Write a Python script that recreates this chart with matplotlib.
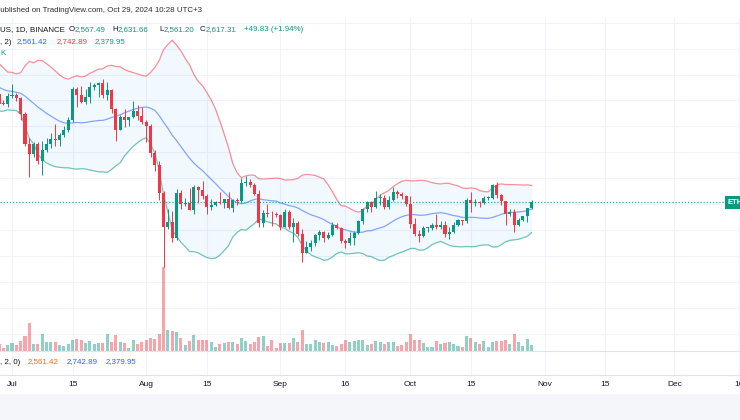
import numpy as np
import pandas as pd
import matplotlib
matplotlib.use('Agg')
import matplotlib.pyplot as plt
import matplotlib.dates as mdates
from matplotlib.patches import Rectangle

# ETH/USD diário (Binance), 28 jun -> 29 out 2024
dates = pd.date_range('2024-06-28', '2024-10-29', freq='D')

# fechamentos de 9 a 27 de junho, só para aquecer a Bollinger (20, 2)
warmup_close = [3705, 3667, 3498, 3560, 3470, 3480, 3566, 3620, 3511, 3484,
                3561, 3515, 3520, 3497, 3420, 3356, 3397, 3372, 3451]

opens = [
    3451, 3375, 3372,
    # jul
    3433, 3440, 3420, 3295, 3060, 2985, 3066, 2930, 3020, 3066, 3100, 3098, 3135, 3175, 3245, 3485,
    3445, 3390, 3425, 3505, 3518, 3535, 3440, 3480, 3335, 3175, 3275, 3250, 3270, 3320, 3280,
    # aug
    3230, 3205, 2990, 2905, 2685, 2420, 2460, 2340, 2685, 2600, 2610, 2555, 2730, 2705, 2660, 2575,
    2590, 2615, 2610, 2635, 2570, 2630, 2625, 2765, 2770, 2750, 2680, 2455, 2530, 2525, 2520,
    # sep
    2515, 2425, 2538, 2425, 2450, 2368, 2225, 2270, 2300, 2360, 2385, 2340, 2360, 2440, 2418,
    2315, 2295, 2340, 2375, 2465, 2560, 2615, 2580, 2645, 2650, 2580, 2630, 2695, 2680, 2660,
    # oct
    2600, 2447, 2366, 2350, 2415, 2418, 2440, 2422, 2440, 2370, 2385, 2438, 2475, 2470, 2630,
    2607, 2612, 2605, 2645, 2650, 2745, 2670, 2620, 2525, 2535, 2440, 2480, 2507, 2567.49,
]
highs = [
    3490, 3400, 3460,
    3530, 3460, 3430, 3310, 3110, 3080, 3075, 3090, 3110, 3150, 3219, 3150, 3200, 3270, 3500, 3500,
    3515, 3490, 3540, 3535, 3545, 3563, 3540, 3490, 3340, 3290, 3330, 3275, 3395, 3365, 3350,
    3245, 3220, 3020, 2935, 2700, 2560, 2545, 2715, 2710, 2645, 2720, 2745, 2740, 2780, 2680,
    2635, 2625, 2690, 2640, 2690, 2640, 2645, 2800, 2820, 2790, 2765, 2710, 2555, 2600, 2545, 2535,
    2525, 2560, 2550, 2490, 2465, 2405, 2315, 2320, 2370, 2400, 2395, 2385, 2460, 2455, 2425,
    2330, 2380, 2390, 2480, 2570, 2620, 2620, 2700, 2675, 2670, 2660, 2730, 2705, 2690, 2670,
    2660, 2495, 2400, 2430, 2425, 2450, 2520, 2465, 2470, 2420, 2460, 2485, 2480, 2645, 2690,
    2640, 2625, 2660, 2665, 2755, 2770, 2680, 2625, 2560, 2565, 2495, 2510, 2572, 2631.66,
]
lows = [
    3365, 3362, 3350,
    3418, 3397, 3250, 3050, 2810, 2960, 2910, 2822, 3005, 3030, 3050, 3050, 3120, 3155, 3235, 3350,
    3380, 3375, 3380, 3480, 3425, 3420, 3405, 3300, 3090, 3170, 3195, 3205, 3265, 3245, 3215,
    3080, 2965, 2855, 2630, 2111, 2410, 2310, 2325, 2560, 2585, 2550, 2520, 2610, 2640, 2520,
    2555, 2585, 2600, 2570, 2560, 2535, 2590, 2610, 2740, 2730, 2670, 2420, 2425, 2500, 2430, 2500,
    2400, 2420, 2410, 2308, 2350, 2150, 2220, 2240, 2275, 2325, 2310, 2330, 2350, 2405, 2300,
    2260, 2285, 2280, 2370, 2445, 2535, 2540, 2570, 2595, 2560, 2560, 2620, 2650, 2640, 2585,
    2415, 2350, 2310, 2345, 2385, 2400, 2405, 2410, 2345, 2330, 2375, 2430, 2440, 2455, 2540,
    2585, 2580, 2600, 2630, 2640, 2650, 2590, 2440, 2510, 2380, 2430, 2465, 2460, 2561.20,
]
closes = [
    3375, 3372, 3433,
    3440, 3420, 3295, 3060, 2985, 3066, 2930, 3020, 3066, 3100, 3098, 3135, 3175, 3245, 3485, 3445,
    3390, 3425, 3505, 3518, 3535, 3440, 3480, 3335, 3175, 3275, 3250, 3270, 3320, 3280, 3230,
    3205, 2990, 2905, 2685, 2420, 2460, 2340, 2685, 2600, 2610, 2555, 2730, 2705, 2660, 2575,
    2590, 2615, 2610, 2635, 2570, 2630, 2625, 2765, 2770, 2750, 2680, 2455, 2530, 2525, 2520, 2515,
    2425, 2538, 2425, 2450, 2368, 2225, 2270, 2300, 2360, 2385, 2340, 2360, 2440, 2418, 2315,
    2295, 2340, 2375, 2465, 2560, 2615, 2580, 2645, 2650, 2580, 2630, 2695, 2680, 2660, 2600,
    2447, 2366, 2350, 2415, 2418, 2440, 2422, 2440, 2370, 2385, 2438, 2475, 2470, 2630, 2607,
    2612, 2605, 2645, 2650, 2745, 2670, 2620, 2525, 2535, 2440, 2480, 2507, 2567.49, 2617.31,
]
# volume (mil ETH)
volumes = [
    200, 100, 170,
    240, 170, 300, 440, 840, 220, 200, 500, 280, 280, 280, 190, 160, 200, 320, 360,
    320, 240, 300, 200, 240, 240, 500, 280, 480, 260, 240, 100, 320, 220, 260,
    320, 380, 360, 520, 2520, 620, 600, 560, 400, 180, 300, 480, 340, 340, 340,
    260, 120, 200, 240, 280, 260, 220, 380, 300, 220, 260, 420, 440, 160, 340, 100,
    240, 240, 240, 400, 260, 620, 220, 220, 320, 280, 240, 260, 180, 140, 220,
    320, 280, 300, 320, 340, 170, 200, 300, 260, 220, 280, 280, 160, 180, 260,
    500, 320, 320, 240, 120, 120, 300, 220, 240, 260, 220, 140, 120, 440, 400,
    260, 220, 300, 120, 260, 300, 300, 320, 200, 500, 260, 160, 360, 180,
]

tick_dates = ['2024-07-01', '2024-07-15', '2024-08-01', '2024-08-15', '2024-09-01', '2024-09-16',
              '2024-10-01', '2024-10-15', '2024-11-01', '2024-11-15', '2024-12-01', '2024-12-16']
tick_labels = ['Jul', '15', 'Aug', '15', 'Sep', '16', 'Oct', '15', 'Nov', '15', 'Dec', '16']

UP, DOWN = '#089981', '#f23645'
TXT = '#131722'
GRID = '#f0f3fa'
plt.rcParams['font.family'] = ['Liberation Sans', 'DejaVu Sans']
FS = 5.7

# bollinger 20, 2 (desvio populacional, como no TradingView)
s = pd.Series(warmup_close + closes, dtype=float)
basis = s.rolling(20).mean().to_numpy()[-len(closes):]
dev = s.rolling(20).std(ddof=0).to_numpy()[-len(closes):]
upper = basis + 2 * dev
lower = basis - 2 * dev

o = np.array(opens); h = np.array(highs); l = np.array(lows); c = np.array(closes)
x = mdates.date2num(dates)
up = c >= o
cols = np.where(up, UP, DOWN)

W, H = 740, 420
def fy(y):
    return 1 - y / H

def price_at(ypx):
    return 2600 + (204 - ypx) / 0.1295

jul1 = mdates.date2num(pd.Timestamp('2024-07-01'))
xl = (jul1 - 12 / 4.33, jul1 + 728 / 4.33)
tx = mdates.date2num(pd.to_datetime(tick_dates))

fig = plt.figure(figsize=(W / 100, H / 100), dpi=100)

# painel do volume (fica por baixo) + grade
vax = fig.add_axes([0, fy(351), 1, (351 - 18) / H])
vax.set_xlim(*xl)
vax.set_ylim(0, 333 * 30)
for t in tx:
    vax.axvline(t, color=GRID, lw=0.8, zorder=0)
pax_lo, pax_hi = price_at(351), price_at(18)
for p in range(1600, 4001, 200):
    vax.axhline((p - pax_lo) / (pax_hi - pax_lo) * 333 * 30, color=GRID, lw=0.8, zorder=0)
vax.bar(x, volumes, width=0.7, color=cols, alpha=0.45, linewidth=0, zorder=1)
vax.axis('off')

# painel de preço
ax = fig.add_axes([0, fy(351), 1, (351 - 18) / H])
ax.patch.set_alpha(0)
ax.set_xlim(*xl)
ax.set_ylim(pax_lo, pax_hi)
ax.fill_between(x, lower, upper, color='#2196f3', alpha=0.06, linewidth=0)
ax.plot(x, basis, color='#2962ff', alpha=0.55, lw=0.9)
ax.plot(x, upper, color=DOWN, alpha=0.55, lw=0.9)
ax.plot(x, lower, color=UP, alpha=0.55, lw=0.9)
ax.vlines(x, l, h, colors=cols, lw=0.7, zorder=3)
body_h = np.maximum(np.abs(c - o), 6)
ax.bar(x, body_h, bottom=np.minimum(o, c), width=0.7, color=cols, linewidth=0, zorder=4)
ax.axhline(closes[-1], color=UP, lw=0.9, alpha=0.8, ls=(0, (1, 1.5)), zorder=2)
ax.axis('off')

# painel de baixo + eixo de datas
ax2 = fig.add_axes([0, fy(375), 1, 24 / H])
ax2.set_xlim(*xl)
ax2.set_ylim(0, 1)
for t in tx:
    ax2.axvline(t, color=GRID, lw=0.8)
for sp in ['left', 'right']:
    ax2.spines[sp].set_visible(False)
for sp in ['top', 'bottom']:
    ax2.spines[sp].set_color('#e0e3eb')
    ax2.spines[sp].set_linewidth(0.8)
ax2.set_yticks([])
ax2.set_xticks(tx)
ax2.set_xticklabels(tick_labels, fontsize=FS + 0.3, color=TXT)
ax2.tick_params(axis='x', length=0, pad=4)

# rótulo do símbolo na direita
fig.patches.append(Rectangle((725 / W, fy(209)), 20 / W, 13 / H, transform=fig.transFigure,
                             facecolor=UP, edgecolor='none'))
fig.text(728 / W, fy(202.5), 'ETH', fontsize=5.5, color='white', fontweight='bold', va='center')

# faixa clara embaixo
fig.patches.append(Rectangle((0, 0), 1, 26 / H, transform=fig.transFigure,
                             facecolor='#f5f6fa', edgecolor='none', zorder=-1))

# textos do cabeçalho e legendas
def put(xp, yp, txt, color=TXT):
    fig.text(xp / W, fy(yp), txt, fontsize=FS, color=color, va='center', ha='left')

put(-5, 10, 'Published on TradingView.com, Oct 29, 2024 10:28 UTC+3', '#2a2e39')
put(0, 29.5, 'US, 1D, BINANCE')
put(69, 29.5, 'O'); put(75, 29.5, '2,567.49', UP)
put(112, 29.5, 'H'); put(118, 29.5, '2,631.66', UP)
put(159, 29.5, 'L'); put(164, 29.5, '2,561.20', UP)
put(200, 29.5, 'C'); put(206, 29.5, '2,617.31', UP)
put(244, 29.5, '+49.83 (+1.94%)', UP)
put(0, 42, ', 2)')
put(17, 42, '2,561.42', '#2962ff')
put(57, 42, '2,742.89', DOWN)
put(95, 42, '2,379.95', UP)
put(0, 53.5, 'K', UP)
put(0, 362, ', 2, 0)')
put(28, 362, '2,561.42', '#ff6d00')
put(67, 362, '2,742.89', '#2962ff')
put(106, 362, '2,379.95', '#2962ff')

fig.savefig('out.png', dpi=100)
